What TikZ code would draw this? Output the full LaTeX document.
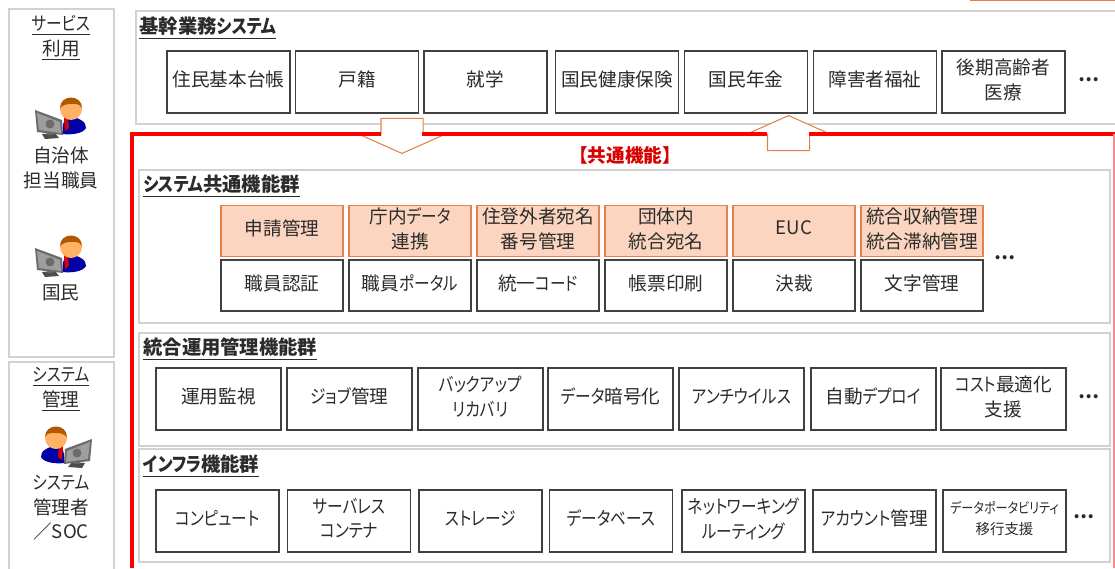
\documentclass[tikz,border=0pt]{standalone}
\usepackage{fontspec}
\setmainfont[RawFeature={+palt}]{Noto Sans CJK JP}
\newfontfamily\kanafont[RawFeature={+palt},FakeStretch=0.84]{Noto Sans CJK JP}
\newfontfamily\fullfont{Noto Sans CJK JP}
\newcommand{\kn}[1]{{\kanafont #1}}
\usetikzlibrary{shapes.arrows}
\definecolor{inktxt}{HTML}{2B2B2B}
\definecolor{cellline}{HTML}{404040}
\definecolor{panelline}{HTML}{D2D2D2}
\definecolor{orline}{HTML}{E2824C}
\definecolor{orfill}{HTML}{FBD5BF}
\definecolor{redline}{HTML}{FF0000}
\tikzset{
  base/.style={text=inktxt, font=\fontsize{10.6}{14}\selectfont, align=center, inner sep=0pt},
  cell/.style={base, draw=cellline, line width=0.6pt, fill=white, text depth=0.12cm, minimum width=2.46cm, minimum height=1.24cm},
  cellwide/.style={cell, minimum width=2.5cm},
  syscell/.style={cell, minimum width=2.44cm, minimum height=1.02cm},
  hilite/.style={syscell, draw=orline, fill=orfill},
  panel/.style={draw=panelline, line width=0.8pt, fill=white, inner sep=0pt},
  head/.style={base, anchor=west, font=\fontsize{11}{13}\selectfont\bfseries},
  more/.style={base, font=\fontsize{10.6}{14}\selectfont\bfseries},
  flowup/.style={single arrow, draw=orline, fill=white, line width=0.6pt, anchor=tip,
    inner sep=0pt, inner ysep=0.41cm, minimum height=0.7cm, minimum width=1.64cm,
    single arrow head extend=0.41cm, single arrow tip angle=132},
  staff/.pic={
    \fill[black!70] (-20,14) -- (-7,13) -- (-3,18) -- (-17,19) -- cycle;
    \fill[black!60] (-15,6) rectangle (-9,15);
    \fill[black!58] (-27,-10) -- (0,0) -- (1,15) -- (-25,12) -- cycle;
    \fill[black!38] (-25,-7) -- (-2,2) -- (-1,13) -- (-23,10) -- cycle;
    \fill[black!58] (-12,4) circle (4.5);
    \fill[blue!65!black] (1,14) .. controls (0,4) and (2,-3) .. (8,-3)
      .. controls (16,-3) and (25,2) .. (24,8) .. controls (21,14) and (8,15) .. (1,14) -- cycle;
    \fill[red!85!black] (2,-3) -- (6,-3) -- (7,8) -- (3,11) -- cycle;
    \fill[orange!60!white] (9,-11) circle (11);
    \fill[orange!70!black] (-2,-12) .. controls (-2,-26) and (20,-26) .. (20,-12)
      .. controls (17,-17) and (13,-16) .. (9,-16) .. controls (4,-16) and (1,-15) .. (-2,-12) -- cycle;
  }
}
\begin{document}
\begin{tikzpicture}[x=0.02cm,y=-0.02cm]
\useasboundingbox (0,0) rectangle (1115,568);

% left column
\node[panel, minimum width=2.1cm, minimum height=6.96cm] (usepanel) at (61.5,183) {};
\node[panel, minimum width=2.1cm, minimum height=4.2cm] (admpanel) at (61.5,467) {};
\node[base] (usetitle) at (61,38) {\underline{\kn{サービス}}\\\underline{利用}};
\pic at (62,120) {staff};
\node[base] (staffname) at (61,168) {自治体\\担当職員};
\pic at (62,258) {staff};
\node[base] (citizen) at (61,293) {国民};
\node[base] (admtitle) at (61,389.5) {\underline{\kn{システム}}\\\underline{管理}};
\pic[xscale=-1] at (65,449) {staff};
\node[base] (admname) at (61,508) {\kn{システム}\\管理者\\／SOC};

% business systems
\node[panel, minimum width=19.6cm, minimum height=2.26cm] (kikan) at (626,67.5) {};
\node[head] (kikanhead) at (139,28) {\underline{基幹業務\kn{システム}}};
\node[cell] (k1) at (228.5,82) {住民基本台帳};
\node[cell] (k2) at (357,82) {戸籍};
\node[cell] (k3) at (485.5,82) {就学};
\node[cell] (k4) at (617,82) {国民健康保険};
\node[cell] (k5) at (746,82) {国民年金};
\node[cell] (k6) at (875,82) {障害者福祉};
\node[cell] (k7) at (1003.5,82) {後期高齢者\\医療};
\node[more] (kmore) at (1089,80) {…};

% shared functions
\coordinate (fa) at (132,568);
\coordinate (fb) at (132,134);
\coordinate (fc) at (381,134);
\coordinate (fd) at (422,134);
\coordinate (fe) at (767,134);
\coordinate (ff) at (809,134);
\coordinate (fg) at (1115,134);
\coordinate (fh) at (1114,134);
\coordinate (fi) at (1114,568);
\node[flowup, rotate=-90] (flowdown) at (402,154) {};
\node[flowup, rotate=90] (flowback) at (788.5,115) {};
\draw[redline, line width=2.2pt] (fa) -- (fb) -- (fc);
\draw[redline, line width=2.2pt] (fd) -- (fe);
\draw[redline, line width=2.2pt] (ff) -- (fg);
\draw[red!45, line width=0.6pt] (fh) -- (fi);
\node[base, font=\fontsize{10.6}{13}\selectfont\bfseries\fullfont, text=red!85!black] (commonhead) at (625,155) {【共通機能】};

% system group
\node[panel, minimum width=19.42cm, minimum height=3.06cm] (syspanel) at (624.5,246.5) {};
\node[head] (syshead) at (143,186) {\underline{\kn{システム}共通機能群}};
\node[hilite] (s1) at (282,231) {申請管理};
\node[hilite] (s2) at (410,231) {庁内\kn{データ}\\連携};
\node[hilite] (s3) at (538,231) {住登外者宛名\\番号管理};
\node[hilite] (s4) at (666,231) {団体内\\統合宛名};
\node[hilite] (s5) at (794,231) {EUC};
\node[hilite] (s6) at (922,231) {統合収納管理\\統合滞納管理};
\node[syscell] (t1) at (282,285.5) {職員認証};
\node[syscell] (t2) at (410,285.5) {職員\kn{ポータル}};
\node[syscell] (t3) at (538,285.5) {統一\kn{コード}};
\node[syscell] (t4) at (666,285.5) {帳票印刷};
\node[syscell] (t5) at (794,285.5) {決裁};
\node[syscell] (t6) at (922,285.5) {文字管理};
\node[more] (smore) at (1005,258) {…};

% operations group
\node[panel, minimum width=19.42cm, minimum height=2.26cm] (opspanel) at (624.5,389.5) {};
\node[head] (opshead) at (143,349) {\underline{統合運用管理機能群}};
\node[cellwide] (o1) at (218.5,399) {運用監視};
\node[cellwide] (o2) at (349.5,399) {\kn{ジョブ}管理};
\node[cellwide] (o3) at (480.5,399) {\kn{バックアップ}\\\kn{リカバリ}};
\node[cellwide] (o4) at (610.5,399) {\kn{データ}暗号化};
\node[cellwide] (o5) at (741.5,399) {\kn{アンチウイルス}};
\node[cellwide] (o6) at (873.5,399) {自動\kn{デプロイ}};
\node[cellwide] (o7) at (1003.5,399) {\kn{コスト}最適化\\支援};
\node[more] (omore) at (1089,397) {…};

% infrastructure group
\node[panel, minimum width=19.42cm, minimum height=2.26cm] (infpanel) at (624.5,505.5) {};
\node[head] (infhead) at (143,466) {\underline{\kn{インフラ}機能群}};
\node[cell] (i1) at (217.5,521) {\kn{コンピュート}};
\node[cell] (i2) at (349,521) {\kn{サーバレス}\\\kn{コンテナ}};
\node[cell] (i3) at (480.5,521) {\kn{ストレージ}};
\node[cell] (i4) at (611,521) {\kn{データベース}};
\node[cell] (i5) at (743.5,521) {\kn{ネットワーキング}\\\kn{ルーティング}};
\node[cell] (i6) at (874.5,521) {\kn{アカウント}管理};
\node[cell, font=\fontsize{8.2}{12}\selectfont] (i7) at (1004.5,521) {\kn{データポータビリティ}\\移行支援};
\node[more] (imore) at (1084,517) {…};

% top right
\coordinate (oa) at (970,0.5);
\coordinate (ob) at (1115,0.5);
\draw[orline, line width=1pt] (oa) -- (ob);
\end{tikzpicture}
\end{document}
